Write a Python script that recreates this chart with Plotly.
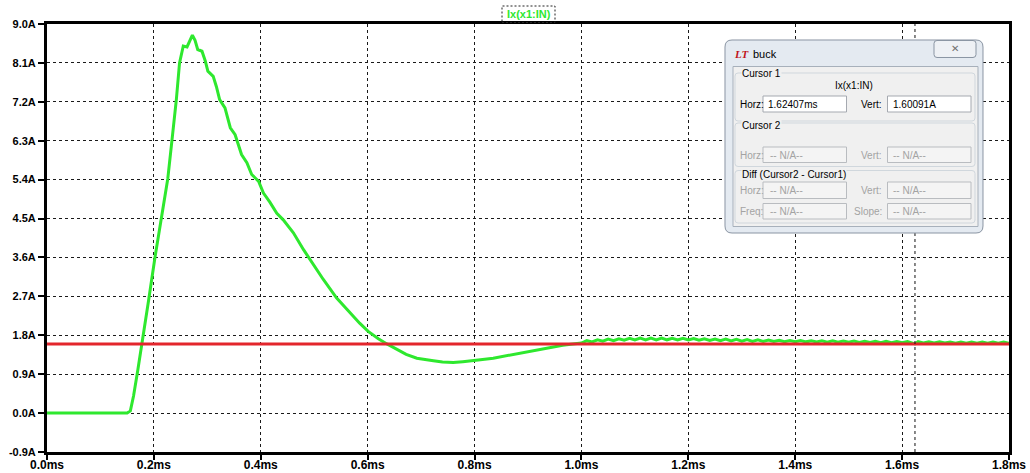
import plotly.graph_objects as go

# ---- waveform data: input current Ix(x1:IN) of the buck converter ----
t_ms = [
    0.000, 0.150, 0.156, 0.162, 0.170, 0.178, 0.190, 0.202, 0.214, 0.226,
    0.234, 0.242, 0.248, 0.255, 0.262, 0.268, 0.272, 0.277, 0.282, 0.290,
    0.296, 0.301, 0.311, 0.317, 0.323, 0.333, 0.343, 0.352, 0.364, 0.374,
    0.383, 0.396, 0.405, 0.417, 0.430, 0.442, 0.461, 0.480, 0.498, 0.517,
    0.542, 0.567, 0.585, 0.601, 0.620, 0.636, 0.654, 0.672, 0.692, 0.708,
    0.723, 0.740, 0.760, 0.778, 0.797, 0.815, 0.835, 0.852, 0.872, 0.890,
    0.910, 0.928, 0.947, 0.965, 0.984,
    1.00, 1.01, 1.02, 1.03, 1.04, 1.05, 1.06, 1.07, 1.08, 1.09,
    1.10, 1.11, 1.12, 1.13, 1.14, 1.15, 1.16, 1.17, 1.18, 1.19,
    1.20, 1.21, 1.22, 1.23, 1.24, 1.25, 1.26, 1.27, 1.28, 1.29,
    1.30, 1.31, 1.32, 1.33, 1.34, 1.35, 1.36, 1.37, 1.38, 1.39,
    1.40, 1.41, 1.42, 1.43, 1.44, 1.45, 1.46, 1.47, 1.48, 1.49,
    1.50, 1.51, 1.52, 1.53, 1.54, 1.55, 1.56, 1.57, 1.58, 1.59,
    1.60, 1.61, 1.62407, 1.63, 1.64, 1.65, 1.66, 1.67, 1.68, 1.69,
    1.70, 1.71, 1.72, 1.73, 1.74, 1.75, 1.76, 1.77, 1.78, 1.79, 1.80,
]
i_amps = [
    0.000, 0.000, 0.050, 0.400, 1.000, 1.600, 2.600, 3.600, 4.550, 5.420,
    6.330, 7.250, 8.100, 8.490, 8.470, 8.620, 8.740, 8.620, 8.410, 8.370,
    8.150, 7.910, 7.790, 7.550, 7.250, 7.060, 6.600, 6.440, 5.980, 5.790,
    5.520, 5.360, 5.090, 4.880, 4.620, 4.470, 4.170, 3.780, 3.430, 3.090,
    2.660, 2.310, 2.080, 1.890, 1.720, 1.600, 1.480, 1.360, 1.270, 1.230,
    1.210, 1.180, 1.170, 1.190, 1.210, 1.240, 1.270, 1.310, 1.350, 1.400,
    1.440, 1.490, 1.540, 1.570, 1.600,
    1.620, 1.675, 1.645, 1.695, 1.665, 1.710, 1.675, 1.720, 1.685, 1.730,
    1.692, 1.735, 1.695, 1.735, 1.695, 1.735, 1.695, 1.730, 1.690, 1.730,
    1.690, 1.725, 1.685, 1.720, 1.680, 1.715, 1.675, 1.710, 1.670, 1.705,
    1.665, 1.700, 1.660, 1.695, 1.657, 1.690, 1.655, 1.685, 1.652, 1.680,
    1.650, 1.678, 1.648, 1.675, 1.645, 1.672, 1.642, 1.670, 1.640, 1.668,
    1.638, 1.665, 1.635, 1.663, 1.633, 1.660, 1.630, 1.658, 1.628, 1.656,
    1.626, 1.654, 1.60091, 1.652, 1.624, 1.650, 1.622, 1.648, 1.620, 1.646,
    1.618, 1.645, 1.617, 1.644, 1.616, 1.643, 1.615, 1.642, 1.615, 1.642, 1.615,
]

# cursor readout
cursor_horz_ms = 1.62407
cursor_vert_a = 1.60091

# axis ticks
x_ticks = [0.0, 0.2, 0.4, 0.6, 0.8, 1.0, 1.2, 1.4, 1.6, 1.8]
x_tick_text = ["0.0ms", "0.2ms", "0.4ms", "0.6ms", "0.8ms",
               "1.0ms", "1.2ms", "1.4ms", "1.6ms", "1.8ms"]
y_ticks = [-0.9, 0.0, 0.9, 1.8, 2.7, 3.6, 4.5, 5.4, 6.3, 7.2, 8.1, 9.0]
y_tick_text = ["-0.9A", "0.0A", "0.9A", "1.8A", "2.7A", "3.6A",
               "4.5A", "5.4A", "6.3A", "7.2A", "8.1A", "9.0A"]

W, H = 1030, 473
L, R, T, B = 47, 1009, 24, 452

GREEN = "#2ee82e"
RED = "#e3262c"


def px(x):
    return (x - L) / (R - L)


def py(y):
    return (B - y) / (B - T)


def rrect(x0, y0, x1, y1, r):
    """Rounded rectangle path, pixel coordinates -> paper coordinates."""
    pts = [
        ("M", x0 + r, y0), ("L", x1 - r, y0), ("Q", x1, y0, x1, y0 + r),
        ("L", x1, y1 - r), ("Q", x1, y1, x1 - r, y1), ("L", x0 + r, y1),
        ("Q", x0, y1, x0, y1 - r), ("L", x0, y0 + r), ("Q", x0, y0, x0 + r, y0),
    ]
    out = []
    for p in pts:
        cmd = p[0]
        coords = p[1:]
        s = []
        for k in range(0, len(coords), 2):
            s.append(f"{px(coords[k]):.5f},{py(coords[k + 1]):.5f}")
        out.append(cmd + " ".join(s))
    return " ".join(out) + " Z"


fig = go.Figure()
fig.add_trace(go.Scatter(x=t_ms, y=i_amps, mode="lines",
                         line=dict(color=GREEN, width=3), hoverinfo="skip"))
fig.add_trace(go.Scatter(x=[x_ticks[0], x_ticks[-1]], y=[cursor_vert_a, cursor_vert_a],
                         mode="lines", line=dict(color=RED, width=3), hoverinfo="skip"))

shapes = []
annotations = []

# vertical cursor
shapes.append(dict(type="line", xref="x", yref="paper", x0=cursor_horz_ms, x1=cursor_horz_ms,
                   y0=0, y1=1, line=dict(color="#111111", width=1, dash="3px,3px")))

# trace name label above the plot
shapes.append(dict(type="rect", xref="paper", yref="paper",
                   x0=px(502), x1=px(555), y0=py(22.5), y1=py(6),
                   line=dict(color="#222222", width=1, dash="2px,2px")))
annotations.append(dict(xref="paper", yref="paper", x=px(528.5), y=py(14.5),
                        text="Ix(x1:IN)", showarrow=False,
                        font=dict(family="Liberation Sans", size=11, color=GREEN, weight="bold"),
                        xanchor="center", yanchor="middle"))

# ---- cursor readout window ----
FONT = "Liberation Sans"
DIS = "#a3a3a3"
shapes.append(dict(type="path", xref="paper", yref="paper", path=rrect(725, 40, 983, 233, 7),
                   fillcolor="#e4eaf1", line=dict(color="#8a95a3", width=1)))
shapes.append(dict(type="path", xref="paper", yref="paper", path=rrect(934, 40.5, 976, 57.5, 3),
                   fillcolor="#eef1f5", line=dict(color="#8a95a3", width=1)))
annotations.append(dict(xref="paper", yref="paper", x=px(955), y=py(48.5), text="✕",
                        showarrow=False, font=dict(family="DejaVu Sans", size=10, color="#707070"),
                        xanchor="center", yanchor="middle"))
annotations.append(dict(xref="paper", yref="paper", x=px(732), y=py(54), text="<b><i>LT</i></b>",
                        showarrow=False, font=dict(family="Liberation Serif", size=11, color="#c0141b"),
                        xanchor="left", yanchor="middle"))
annotations.append(dict(xref="paper", yref="paper", x=px(751), y=py(54), text="buck",
                        showarrow=False, font=dict(family=FONT, size=11, color="#000000"),
                        xanchor="left", yanchor="middle"))
shapes.append(dict(type="rect", xref="paper", yref="paper", x0=px(733), x1=px(978),
                   y0=py(226.5), y1=py(66.5), fillcolor="#f0f0f0",
                   line=dict(color="#a7b0bb", width=1)))

# group frames
for (gy0, gy1) in [(73, 121), (123, 166.5), (170.5, 223)]:
    shapes.append(dict(type="path", xref="paper", yref="paper", path=rrect(735, gy0, 975, gy1, 3),
                       fillcolor="rgba(0,0,0,0)", line=dict(color="#d0d7dd", width=1)))


def label(x, y, text, color="#000000", anchor="left", bg=None):
    a = dict(xref="paper", yref="paper", x=px(x), y=py(y), text=text, showarrow=False,
             font=dict(family=FONT, size=10, color=color), xanchor=anchor, yanchor="middle")
    if bg:
        a["bgcolor"] = bg
        a["borderpad"] = 0
    annotations.append(a)


def box(x0, y0, x1, y1, enabled=True):
    shapes.append(dict(type="rect", xref="paper", yref="paper", x0=px(x0), x1=px(x1),
                       y0=py(y1), y1=py(y0),
                       fillcolor="#ffffff" if enabled else "#f4f4f4",
                       line=dict(color="#a5a9b0" if enabled else "#b9bcc0", width=1)))


label(741, 74, "Cursor 1", bg="#f0f0f0")
label(853.5, 85, "Ix(x1:IN)", anchor="center")
label(737.5, 104, "Horz:")
box(763, 96, 846.5, 112)
label(766, 104, f"{cursor_horz_ms:.5f}ms")
label(883.5, 104, "Vert:", anchor="right")
box(887.5, 96, 971, 112)
label(890.5, 104, f"{cursor_vert_a:.5f}A")

label(741, 126, "Cursor 2", bg="#f0f0f0")
label(737.5, 155, "Horz:", color=DIS)
box(763, 147, 846.5, 162.5, enabled=False)
label(768, 155, "-- N/A--", color=DIS)
label(883.5, 155, "Vert:", anchor="right", color=DIS)
box(887.5, 147, 971, 162.5, enabled=False)
label(891, 155, "-- N/A--", color=DIS)

label(741, 174, "Diff (Cursor2 - Cursor1)", bg="#f0f0f0")
label(737.5, 190, "Horz:", color=DIS)
box(763, 182, 846.5, 198.5, enabled=False)
label(768, 190, "-- N/A--", color=DIS)
label(883.5, 190, "Vert:", anchor="right", color=DIS)
box(887.5, 182, 971, 198.5, enabled=False)
label(891, 190, "-- N/A--", color=DIS)
label(737.5, 211, "Freq:", color=DIS)
box(763, 203.5, 846.5, 219, enabled=False)
label(768, 211, "-- N/A--", color=DIS)
label(883.5, 211, "Slope:", anchor="right", color=DIS)
box(887.5, 203.5, 971, 219, enabled=False)
label(891, 211, "-- N/A--", color=DIS)

axis_common = dict(showline=True, linecolor="#000000", linewidth=3, mirror=True,
                   ticks="outside", tickwidth=2, tickcolor="#000000",
                   showgrid=True, gridcolor="#1a1a1a", gridwidth=1, griddash="3px,3px",
                   zeroline=False, fixedrange=True, automargin=False)

fig.update_layout(
    width=W, height=H,
    margin=dict(l=L, r=W - R, t=T, b=H - B, autoexpand=False),
    paper_bgcolor="#ffffff", plot_bgcolor="#ffffff",
    showlegend=False,
    xaxis=dict(range=[x_ticks[0], x_ticks[-1]], tickvals=x_ticks, ticktext=x_tick_text,
               ticklen=5, ticklabelstandoff=-5,
               tickfont=dict(family="Liberation Sans", size=12, color="#000000", weight="bold"),
               **axis_common),
    yaxis=dict(range=[y_ticks[0], y_ticks[-1]], tickvals=y_ticks, ticktext=y_tick_text,
               ticklen=6,
               tickfont=dict(family="Liberation Sans", size=11, color="#000000", weight="bold"),
               **axis_common),
    shapes=shapes,
    annotations=annotations,
)

fig.write_html("out.html")
